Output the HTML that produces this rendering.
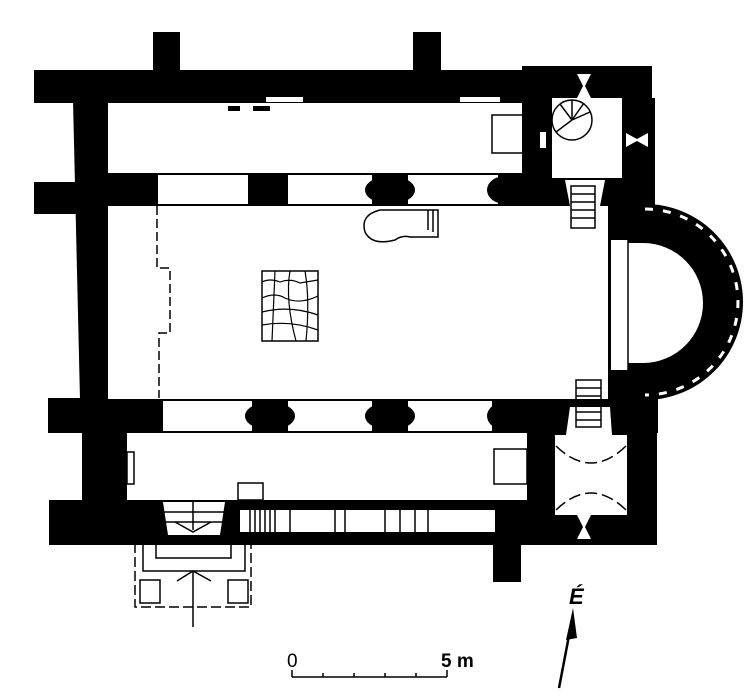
<!DOCTYPE html>
<html><head><meta charset="utf-8"><style>html,body{margin:0;padding:0;background:#fff}svg{display:block}</style></head>
<body>
<svg width="751" height="700" viewBox="0 0 751 700" xmlns="http://www.w3.org/2000/svg">
<g fill="#000">
<rect x="153" y="32" width="27" height="40"/>
<rect x="413" y="32" width="28" height="40"/>
<rect x="34" y="70" width="618" height="33"/>
<rect x="522" y="66" width="130" height="40"/>
<polygon points="73,100 108,100 112,400 80,400"/>
<rect x="34" y="182" width="45" height="32"/>
<rect x="80" y="173" width="545" height="33"/>
<rect x="522" y="98" width="133" height="110"/>
<rect x="606" y="205" width="50" height="196"/>
<path d="M645,204 A98,98 0 0 1 645,400 Z"/>
<rect x="48" y="398" width="610" height="35"/>
<rect x="82" y="430" width="45" height="85"/>
<rect x="49" y="500" width="608" height="45"/>
<rect x="527" y="430" width="130" height="113"/>
<rect x="493" y="540" width="28" height="42"/>
</g>
<g fill="#fff">
<rect x="108" y="106" width="414" height="67"/>
<rect x="108" y="206" width="500" height="193"/>
<path d="M628,243 L643,243 A60,60 0 0 1 643,363 L628,363 Z"/>
<rect x="611" y="240" width="17" height="130"/>
<rect x="552" y="98" width="70" height="80"/>
<rect x="127" y="433" width="400" height="67"/>
<rect x="555" y="435" width="72" height="80"/>
<polygon points="570,407 610,407 612,435 566,435"/>
<polygon points="565,180 605,180 600,206 570,206"/>
<rect x="266" y="97" width="37" height="5"/>
<rect x="460" y="97" width="40" height="5"/>
<rect x="158" y="175" width="90" height="29"/>
<rect x="288" y="175" width="210" height="29"/>
<rect x="163" y="401" width="343" height="30"/>
<polygon points="163,502 225,502 220,535 168,535"/>
<rect x="240" y="510" width="255" height="22"/>
<rect x="238" y="483" width="25" height="17"/>
<polygon points="577,74 591,74 585,86 591,98 577,98 583,86"/>
<polygon points="626,133 626,147 637,141 648,147 648,133 637,139"/>
<polygon points="577,515 591,515 585,527 591,539 577,539 583,527"/>
<rect x="540" y="132" width="6" height="16"/>
</g>
<g fill="#000">
<ellipse cx="390" cy="190" rx="25" ry="14"/><rect x="372" y="173" width="36" height="33"/>
<ellipse cx="505" cy="190" rx="18" ry="14"/>
<ellipse cx="270" cy="416" rx="25" ry="14"/><rect x="252" y="400" width="36" height="32"/>
<ellipse cx="390" cy="416" rx="25" ry="14"/><rect x="372" y="400" width="36" height="32"/>
<ellipse cx="505" cy="416" rx="18" ry="14"/>
<rect x="492" y="400" width="20" height="32"/>
<rect x="228" y="106" width="12" height="5"/><rect x="253" y="106" width="17" height="5"/>
</g>
<path d="M645,209 A93,93 0 0 1 645,395" fill="none" stroke="#fff" stroke-width="3" stroke-dasharray="8,10"/>
<g fill="none" stroke="#000" stroke-width="1.5">
<line x1="628" y1="240" x2="628" y2="370"/>
<rect x="492" y="115" width="33" height="38"/>
<rect x="494" y="449" width="33" height="35"/>
<rect x="127" y="452" width="7" height="32"/>
<circle cx="572" cy="120" r="20"/>
<line x1="572" y1="120" x2="556" y2="132"/><line x1="572" y1="120" x2="590" y2="112"/>
<line x1="572" y1="120" x2="560" y2="104"/><line x1="572" y1="120" x2="572" y2="100"/><line x1="572" y1="120" x2="584" y2="103"/>
<rect x="571" y="186" width="24" height="42"/>
<line x1="571" y1="194" x2="595" y2="194"/><line x1="571" y1="202" x2="595" y2="202"/><line x1="571" y1="210" x2="595" y2="210"/><line x1="571" y1="218" x2="595" y2="218"/>
<rect x="576" y="380" width="25" height="47"/>
<line x1="576" y1="388" x2="601" y2="388"/><line x1="576" y1="396" x2="601" y2="396"/><line x1="576" y1="404" x2="601" y2="404"/><line x1="576" y1="412" x2="601" y2="412"/><line x1="576" y1="420" x2="601" y2="420"/>
<path d="M556,446 Q591,480 626,446" stroke-dasharray="12,5"/><path d="M556,510 Q591,476 626,510" stroke-dasharray="12,5"/>
<path d="M380,210 Q360,215 365,232 Q372,246 395,240 Q402,235 410,237 L438,237 L438,210 Z"/>
<line x1="428" y1="210" x2="428" y2="230"/><line x1="433" y1="210" x2="433" y2="232"/>
<path d="M157,206 L157,268 L170,268 L170,333 L159,333 L159,398" stroke-dasharray="9,4"/>
<rect x="262" y="271" width="56" height="70"/>
<path d="M262,282 Q270,278 280,282 Q290,278 300,283 L318,280 M262,298 Q275,292 285,298 Q300,305 318,296 M262,312 Q290,305 318,315 M262,325 Q290,320 318,330 M275,271 L272,341 M290,271 Q285,300 296,341 M305,271 Q310,300 306,341" stroke-width="1.2"/>
<rect x="238" y="483" width="25" height="17"/>
<line x1="163" y1="512" x2="225" y2="512"/><line x1="164" y1="522" x2="224" y2="522"/><line x1="193" y1="502" x2="193" y2="530"/>
<path d="M175,522 L193,532 L211,522"/>
<line x1="250" y1="510" x2="250" y2="532"/><line x1="255" y1="510" x2="255" y2="532"/><line x1="260" y1="510" x2="260" y2="532"/><line x1="265" y1="510" x2="265" y2="532"/><line x1="270" y1="510" x2="270" y2="532"/><line x1="275" y1="510" x2="275" y2="532"/><line x1="290" y1="510" x2="290" y2="532"/>
<line x1="335" y1="510" x2="335" y2="532"/><line x1="345" y1="510" x2="345" y2="532"/><line x1="385" y1="510" x2="385" y2="532"/><line x1="400" y1="510" x2="400" y2="532"/><line x1="415" y1="510" x2="415" y2="532"/><line x1="428" y1="510" x2="428" y2="532"/>
<rect x="135" y="543" width="116" height="64" stroke-dasharray="10,4"/>
<rect x="143" y="543" width="102" height="28"/>
<rect x="156" y="543" width="75" height="15"/>
<rect x="140" y="580" width="20" height="23"/>
<rect x="228" y="580" width="20" height="23"/>
<line x1="193" y1="571" x2="193" y2="627"/>
<path d="M177,581 L193,571 L211,581"/>
<line x1="292" y1="677" x2="447" y2="677"/>
<line x1="292" y1="670" x2="292" y2="677"/><line x1="323" y1="673" x2="323" y2="677"/><line x1="354" y1="673" x2="354" y2="677"/><line x1="385" y1="673" x2="385" y2="677"/><line x1="416" y1="673" x2="416" y2="677"/><line x1="447" y1="670" x2="447" y2="677"/>
</g>
<line x1="559" y1="688" x2="572" y2="620" stroke="#000" stroke-width="2.5"/>
<polygon points="573,608 566,640 577,638" fill="#000"/>
<text x="287" y="667" font-family="Liberation Sans, sans-serif" font-size="19">0</text>
<text x="441" y="667" font-family="Liberation Sans, sans-serif" font-size="19" font-weight="bold">5 m</text>
<text x="569" y="604" font-family="Liberation Sans, sans-serif" font-size="22" font-weight="bold" font-style="italic">É</text>
</svg>
</body></html>
